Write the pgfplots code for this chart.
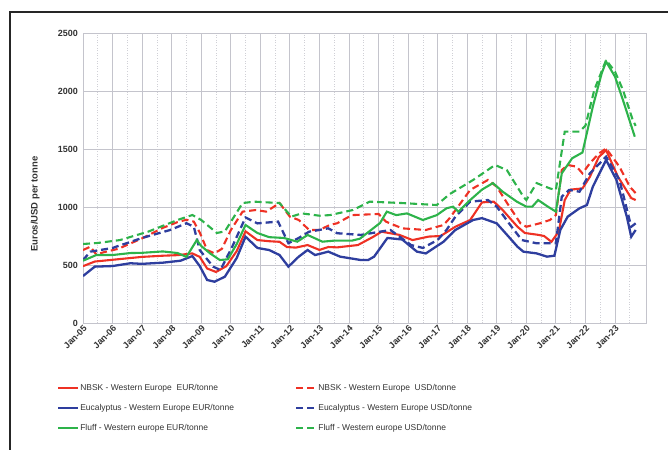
\documentclass[border=0pt]{standalone}
\usepackage{fontspec}
\setmainfont{Liberation Sans}
\usepackage{pgfplots}
\pgfplotsset{compat=1.18}
\definecolor{cred}{HTML}{EE3124}
\definecolor{cblue}{HTML}{2E3E9E}
\definecolor{cgreen}{HTML}{2DB34A}
\definecolor{cgrid}{HTML}{C4C4CC}
\definecolor{ctext}{HTML}{333333}
\begin{document}
\begin{tikzpicture}[x=1bp,y=1bp]
\useasboundingbox (0,0) rectangle (668,-450);
\draw[line width=1.3bp, black!85] (10,-451) -- (10,-12) -- (669,-12);
\begin{axis}[
  at={(83bp,-323bp)}, anchor=south west,
  scale only axis, width=563bp, height=290bp,
  xmin=2005, xmax=2024.05, ymin=0, ymax=2500,
  xtick={2005,2006,2007,2008,2009,2010,2011,2012,2013,2014,2015,2016,2017,2018,2019,2020,2021,2022,2023},
  xticklabels={Jan-05,Jan-06,Jan-07,Jan-08,Jan-09,Jan-10,Jan-11,Jan-12,Jan-13,Jan-14,Jan-15,Jan-16,Jan-17,Jan-18,Jan-19,Jan-20,Jan-21,Jan-22,Jan-23},
  minor xtick={2005.5,2006.5,...,2023.5},
  ytick={0,500,1000,1500,2000,2500},
  grid=both,
  major grid style={cgrid, line width=0.9bp},
  minor grid style={cgrid!80, line width=0.6bp, dotted},
  axis line style={cgrid, line width=0.9bp},
  tick style={draw=none},
  /pgf/number format/assume math mode=true,
  /pgf/number format/1000 sep={},
  ticklabel style={font=\fontsize{9}{10}\selectfont\bfseries, text=ctext},
  xticklabel style={rotate=45, anchor=north east, inner sep=1bp},
  yticklabel style={inner sep=2bp, xshift=-3bp},
  ylabel={Euros/USD per tonne},
  ylabel style={font=\fontsize{9.5}{10}\selectfont\bfseries, text=ctext, at={(axis description cs:-0.085,0.41)}, anchor=center},
  legend columns=2,
  legend cell align=left,
  legend style={draw=none, fill=none, inner sep=0pt, outer sep=0pt,
    at={(-0.0462,-0.205)}, anchor=north west,
    font=\fontsize{8.5}{9}\selectfont, text=ctext,
    nodes={inner sep=1bp, text height=7bp, text depth=2bp},
    row sep=9bp,
    /tikz/every odd column/.append style={column sep=0bp},
    /tikz/every even column/.append style={column sep=60bp}},
  legend image code/.code={\draw[#1] (0bp,0bp) -- (20bp,0bp);},
]
% NBSK EUR
\addplot[cred, line width=2.1bp] coordinates {
(2005.0,490) (2005.4,530) (2006.0,545) (2006.6,560) (2007.0,570) (2007.7,580) (2008.2,585) (2008.7,600) (2008.95,570) (2009.2,470) (2009.5,440) (2009.85,490) (2010.2,620) (2010.5,790) (2010.9,715) (2011.3,705) (2011.65,700) (2011.9,655) (2012.2,650) (2012.6,672) (2013.0,630) (2013.3,655) (2013.6,652) (2014.3,672) (2014.8,740) (2015.1,787) (2015.7,760) (2016.15,715) (2016.7,745) (2017.1,750) (2017.6,830) (2018.1,888) (2018.5,1040) (2018.9,1046) (2019.2,974) (2019.7,830) (2019.95,776) (2020.4,760) (2020.6,750) (2020.85,700) (2021.1,790) (2021.3,1060) (2021.5,1150) (2021.9,1160) (2022.15,1260) (2022.45,1430) (2022.7,1490) (2023.1,1261) (2023.55,1077) (2023.7,1060)};
\addlegendentry{NBSK - Western Europe\ \ EUR/tonne}
% NBSK USD
\addplot[cred, line width=2.1bp, dash pattern=on 7bp off 4bp] coordinates {
(2005.0,629) (2005.25,658) (2005.45,590) (2005.7,610) (2006.2,640) (2007.0,730) (2007.7,820) (2008.2,870) (2008.5,890) (2008.75,874) (2008.95,780) (2009.2,629) (2009.45,600) (2009.7,640) (2010.0,800) (2010.4,960) (2010.85,974) (2011.2,960) (2011.65,1034) (2012.0,917) (2012.3,888) (2012.65,802) (2013.0,802) (2013.35,845) (2013.6,860) (2014.1,930) (2015.0,940) (2015.25,874) (2015.8,816) (2016.6,802) (2017.2,845) (2017.4,902) (2018.1,1147) (2018.7,1233) (2019.0,1175) (2019.35,1034) (2019.8,860) (2020.0,830) (2020.45,859) (2020.8,888) (2021.0,931) (2021.2,1319) (2021.4,1362) (2021.7,1348) (2021.9,1290) (2022.15,1377) (2022.45,1460) (2022.7,1505) (2023.15,1348) (2023.5,1175) (2023.7,1120)};
\addlegendentry{NBSK - Western Europe\ \ USD/tonne}
% Eucalyptus EUR
\addplot[cblue, line width=2.3bp] coordinates {
(2005.0,405) (2005.4,486) (2006.0,491) (2006.6,515) (2007.0,510) (2007.7,520) (2008.3,537) (2008.7,577) (2008.95,491) (2009.2,371) (2009.45,356) (2009.8,399) (2010.2,560) (2010.5,744) (2010.9,647) (2011.3,629) (2011.65,586) (2011.95,486) (2012.3,572) (2012.6,629) (2012.85,586) (2013.3,615) (2013.7,572) (2014.4,543) (2014.65,543) (2014.85,572) (2015.3,733) (2015.8,720) (2016.3,615) (2016.6,600) (2017.2,701) (2017.6,802) (2018.2,888) (2018.5,904) (2019.0,859) (2019.35,759) (2019.7,658) (2019.9,615) (2020.35,600) (2020.7,572) (2020.95,580) (2021.15,802) (2021.4,917) (2021.8,989) (2022.05,1017) (2022.25,1175) (2022.7,1405) (2023.05,1233) (2023.4,917) (2023.55,744) (2023.7,802)};
\addlegendentry{Eucalyptus - Western Europe EUR/tonne}
% Eucalyptus USD
\addplot[cblue, line width=2.3bp, dash pattern=on 7bp off 4bp] coordinates {
(2005.0,543) (2005.25,615) (2006.0,647) (2007.0,733) (2007.95,802) (2008.5,860) (2008.75,830) (2008.95,629) (2009.4,486) (2009.65,457) (2010.05,658) (2010.5,910) (2010.9,859) (2011.6,874) (2011.95,688) (2012.3,733) (2012.65,787) (2013.3,816) (2013.6,774) (2014.4,759) (2015.05,787) (2015.4,802) (2016.1,672) (2016.5,647) (2017.0,716) (2017.3,802) (2017.6,917) (2018.1,1046) (2018.7,1060) (2019.0,1003) (2019.5,830) (2019.85,715) (2020.35,687) (2020.8,687) (2021.0,687) (2021.2,1089) (2021.45,1147) (2021.8,1132) (2022.15,1290) (2022.7,1434) (2023.15,1233) (2023.35,1034) (2023.55,830) (2023.7,859)};
\addlegendentry{Eucalyptus - Western Europe USD/tonne}
% Fluff EUR
\addplot[cgreen, line width=2.1bp] coordinates {
(2005.0,537) (2005.45,586) (2006.0,586) (2006.6,603) (2007.0,605) (2007.7,617) (2008.2,603) (2008.5,570) (2008.85,715) (2009.0,664) (2009.3,600) (2009.63,543) (2009.9,549) (2010.2,680) (2010.5,845) (2010.9,776) (2011.3,740) (2011.8,733) (2012.25,701) (2012.6,759) (2013.1,701) (2013.5,710) (2014.1,710) (2014.37,727) (2015.05,862) (2015.28,960) (2015.6,930) (2015.96,945) (2016.5,888) (2016.97,930) (2017.3,989) (2017.52,1003) (2017.7,960) (2018.1,1060) (2018.5,1150) (2018.87,1206) (2019.2,1132) (2019.68,1046) (2020.0,1003) (2020.2,1003) (2020.4,1060) (2020.73,1003) (2021.0,960) (2021.2,1290) (2021.55,1420) (2021.9,1470) (2022.25,1865) (2022.55,2152) (2022.7,2253) (2023.0,2124) (2023.27,1922) (2023.67,1606)};
\addlegendentry{Fluff - Western europe EUR/tonne}
% Fluff USD
\addplot[cgreen, line width=2.1bp, dash pattern=on 7bp off 4bp] coordinates {
(2005.0,681) (2005.5,690) (2006.25,715) (2007.2,787) (2008.2,888) (2008.7,931) (2009.0,888) (2009.53,776) (2009.8,790) (2010.4,1034) (2010.8,1046) (2011.65,1034) (2012.05,917) (2012.4,945) (2013.0,925) (2013.35,930) (2014.13,974) (2014.7,1046) (2015.8,1034) (2016.97,1017) (2017.4,1110) (2018.2,1233) (2018.94,1362) (2019.34,1319) (2019.9,1089) (2020.0,1060) (2020.35,1206) (2020.8,1160) (2021.0,1147) (2021.3,1650) (2021.8,1650) (2022.0,1700) (2022.3,2009) (2022.7,2267) (2023.0,2167) (2023.27,2009) (2023.6,1750) (2023.7,1700)};
\addlegendentry{Fluff - Western europe USD/tonne}
\end{axis}
\end{tikzpicture}
\end{document}
